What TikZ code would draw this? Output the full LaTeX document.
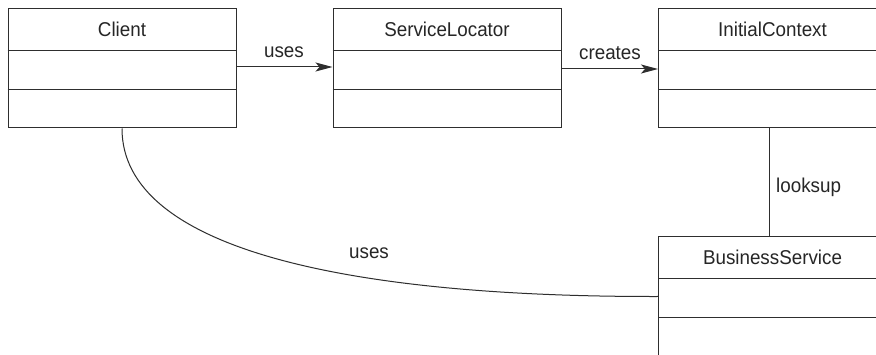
\documentclass[tikz,border=0pt]{standalone}
\usepackage{fontspec}
\setmainfont{Liberation Sans}[FakeStretch=0.94]
\usetikzlibrary{arrows.meta}
\definecolor{ln}{HTML}{2E2E2E}
\definecolor{tx}{HTML}{262626}
\tikzset{
  umlbox/.style={draw=ln, line width=1pt, minimum width=228pt, minimum height=119pt, inner sep=0pt},
  title/.style={text=tx, font=\fontsize{20}{24}\selectfont, inner sep=0pt},
  lbl/.style={text=tx, font=\fontsize{20}{24}\selectfont, inner sep=0pt},
  conn/.style={draw=ln, line width=1pt},
  arr/.style={conn, -{Stealth[length=17pt, width=9pt, inset=4pt]}}
}
\newcommand{\umldividers}[1]{%
  \draw[conn] ([yshift=-42pt]#1.north west) -- ([yshift=-42pt]#1.north east);
  \draw[conn] ([yshift=-81pt]#1.north west) -- ([yshift=-81pt]#1.north east);
}
\begin{document}
\begin{tikzpicture}[x=1pt, y=-1pt]
\clip (0,0) rectangle (876,355);
\fill[white] (0,0) rectangle (876,355);

\node[umlbox] (client) at (122,68.5) {};
\node[umlbox] (sl) at (447,68.5) {};
\node[umlbox] (ic) at (772.5,68.5) {};
\node[umlbox] (bs) at (772.5,296.5) {};

\umldividers{client}
\umldividers{sl}
\umldividers{ic}
\umldividers{bs}

\node[title] (tclient) at ([yshift=-21pt]client.north) {Client};
\node[title] (tsl) at ([yshift=-21pt]sl.north) {ServiceLocator};
\node[title] (tic) at ([yshift=-21pt]ic.north) {InitialContext};
\node[title] (tbs) at ([yshift=-21pt]bs.north) {BusinessService};

\draw[arr] ([yshift=1.5pt]client.east) -- ([yshift=1.5pt]sl.west);
\node[lbl] (luses1) at (284,52) {uses};

\draw[arr] ([yshift=-0.5pt]sl.east) -- ([yshift=-0.5pt]ic.west);
\node[lbl] (lcreates) at (610,53) {creates};

\draw[conn] ([xshift=-3.5pt]ic.south) -- ([xshift=-3.5pt]bs.north);
\node[lbl, anchor=west] (llooksup) at (776,187) {looksup};

\draw[conn] (client.south) .. controls (122,250) and (350,297) .. (bs.west);
\node[lbl] (luses2) at (369,253) {uses};
\end{tikzpicture}
\end{document}
